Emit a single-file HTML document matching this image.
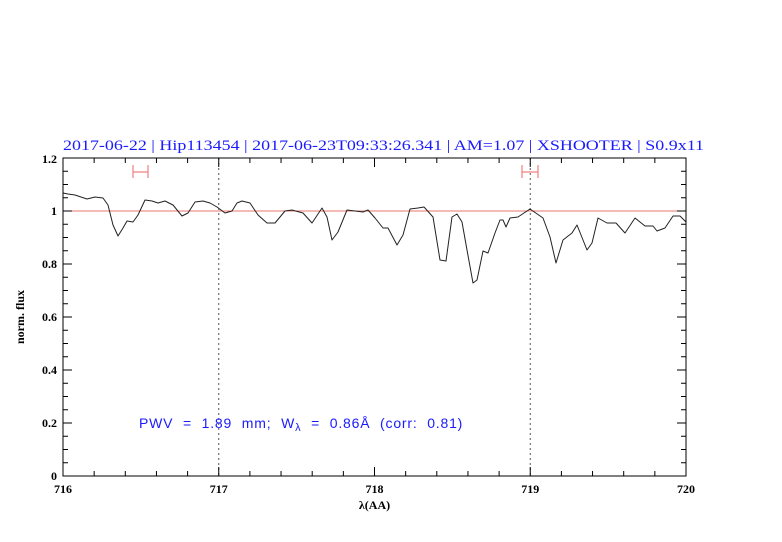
<!DOCTYPE html>
<html><head><meta charset="utf-8"><style>html,body{margin:0;padding:0;background:#fff}svg{display:block}</style></head>
<body>
<svg width="782" height="542" viewBox="0 0 782 542" xmlns="http://www.w3.org/2000/svg">
<text x="63" y="150" font-family="Liberation Serif, serif" font-size="15" fill="#1a1aff" textLength="641" lengthAdjust="spacingAndGlyphs">2017-06-22 | Hip113454 | 2017-06-23T09:33:26.341 | AM=1.07 | XSHOOTER | S0.9x11</text>
<line x1="63" y1="211" x2="686" y2="211" stroke="#e8776d" stroke-width="1"/>
<g stroke="#555" stroke-width="1" stroke-dasharray="2,3">
<line x1="218.75" y1="158" x2="218.75" y2="476"/>
<line x1="530.25" y1="158" x2="530.25" y2="476"/>
</g>
<g stroke="#f08080" stroke-width="1.2" fill="none">
<path d="M133 172H148M133 165V178M148 165V178"/>
<path d="M522 172H538M522 165V178M538 165V178"/>
</g>
<polyline fill="none" stroke="#222" stroke-width="1" stroke-linejoin="round" points="63,193 68,194 75,195 87,199 95,197 103,198 108,205 113,225 118,236 123,228 127,221 133,222 138,215 145,200 152,201 158,203 165,201 173,205 182,216 188,213 195,202 203,201 210,203 217,207 225,213 232,211 237,203 242,201 250,203 258,215 267,223 275,223 285,211 292,210 303,213 312,223 322,208 327,217 332,240 338,232 347,210 355,211 363,212 368,210 375,218 383,228 388,228 397,245 403,235 410,209 418,208 424,207 433,217 440,260 446,261 452,217 457,214 462,222 467,250 473,283 477,280 483,251 488,253 495,233 500,220 503,220 506,227 510,218 518,217 530,209 543,218 550,237 556,263 563,240 572,233 577,225 587,250 592,243 598,218 607,223 616,223 625,233 635,218 645,226 653,226 657,231 665,228 673,216 680,216 686,222"/>
<rect x="63" y="158" width="623" height="318" fill="none" stroke="#000" stroke-width="1"/>
<g stroke="#000" stroke-width="1" fill="none">
<path d="M63 476v-9M94.15 476v-5M125.3 476v-5M156.45 476v-5M187.6 476v-5M218.75 476v-9M249.9 476v-5M281.05 476v-5M312.2 476v-5M343.35 476v-5M374.5 476v-9M405.65 476v-5M436.8 476v-5M467.95 476v-5M499.1 476v-5M530.25 476v-9M561.4 476v-5M592.55 476v-5M623.7 476v-5M654.85 476v-5M686 476v-9"/>
<path d="M63 158v9M94.15 158v5M125.3 158v5M156.45 158v5M187.6 158v5M218.75 158v9M249.9 158v5M281.05 158v5M312.2 158v5M343.35 158v5M374.5 158v9M405.65 158v5M436.8 158v5M467.95 158v5M499.1 158v5M530.25 158v9M561.4 158v5M592.55 158v5M623.7 158v5M654.85 158v5M686 158v9"/>
<path d="M63 476h9M63 462.75h5M63 449.5h5M63 436.25h5M63 423h9M63 409.75h5M63 396.5h5M63 383.25h5M63 370h9M63 356.75h5M63 343.5h5M63 330.25h5M63 317h9M63 303.75h5M63 290.5h5M63 277.25h5M63 264h9M63 250.75h5M63 237.5h5M63 224.25h5M63 211h9M63 197.75h5M63 184.5h5M63 171.25h5M63 158h9"/>
<path d="M686 476h-9M686 462.75h-5M686 449.5h-5M686 436.25h-5M686 423h-9M686 409.75h-5M686 396.5h-5M686 383.25h-5M686 370h-9M686 356.75h-5M686 343.5h-5M686 330.25h-5M686 317h-9M686 303.75h-5M686 290.5h-5M686 277.25h-5M686 264h-9M686 250.75h-5M686 237.5h-5M686 224.25h-5M686 211h-9M686 197.75h-5M686 184.5h-5M686 171.25h-5M686 158h-9"/>
</g>
<g font-family="Liberation Serif, serif" font-size="12" font-weight="bold" fill="#000" text-anchor="middle">
<text x="63" y="493">716</text><text x="218.75" y="493">717</text><text x="374.5" y="493">718</text><text x="530.25" y="493">719</text><text x="686" y="493">720</text>
<text x="374.5" y="509">λ(AA)</text>
</g>
<g font-family="Liberation Serif, serif" font-size="12" font-weight="bold" fill="#000" text-anchor="end">
<text x="57" y="163">1.2</text><text x="57" y="215">1</text><text x="57" y="268">0.8</text><text x="57" y="321">0.6</text><text x="57" y="374">0.4</text><text x="57" y="427">0.2</text><text x="57" y="480">0</text>
</g>
<text transform="translate(24,317) rotate(-90)" font-family="Liberation Serif, serif" font-size="12" font-weight="bold" text-anchor="middle">norm. flux</text>
<text x="139" y="428" font-family="Liberation Sans, sans-serif" font-size="14" fill="#1a1aff" word-spacing="5" letter-spacing="0.8">PWV = 1.89 mm; W<tspan font-size="11" dy="3">λ</tspan><tspan dy="-3"> = 0.86Å (corr: 0.81)</tspan></text>
</svg>
</body></html>
